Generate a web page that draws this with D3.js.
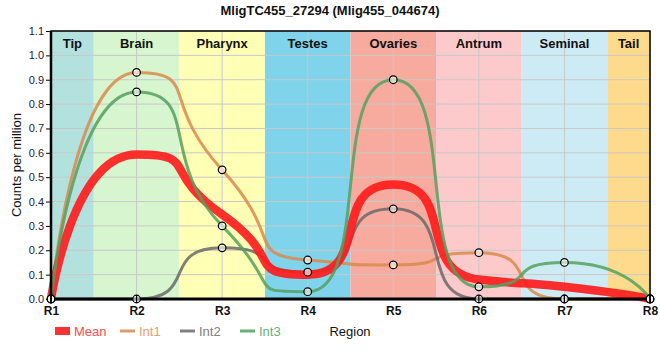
<!DOCTYPE html>
<html><head><meta charset="utf-8">
<script src="https://cdn.jsdelivr.net/npm/d3@7"></script>
<style>body{margin:0;background:#fff;font-family:"Liberation Sans",Arial,sans-serif}</style>
</head><body><svg id="c" width="660" height="360"></svg>
<script>
const regions = ["R1","R2","R3","R4","R5","R6","R7","R8"];
const tissues = ["Tip","Brain","Pharynx","Testes","Ovaries","Antrum","Seminal","Tail"];
const tissueColors = ["#b3e2de","#d7f6cf","#ffffb6","#7fd3eb","#f6ab9e","#fdcacb","#cdebf5","#fedb8c"];
const meanVals = [0, 0.593, 0.347, 0.10, 0.47, 0.08, 0.05, 0];
const int1 = [0, 0.93, 0.53, 0.16, 0.14, 0.19, 0, 0];
const int2 = [0, 0, 0.21, 0.11, 0.37, 0, 0, 0];
const int3 = [0, 0.85, 0.30, 0.03, 0.90, 0.05, 0.15, 0];
const yTicks = [0,0.1,0.2,0.3,0.4,0.5,0.6,0.7,0.8,0.9,1.0,1.1];

const svg = d3.select("#c");
const x = d3.scalePoint().domain(regions).range([51, 650]);
const y = d3.scaleLinear().domain([0, 1.1]).range([299, 31]);
const step = x.step();

// smoothed spline: flat tangents at local extremes, control points far out
function spline(vals) {
  const p = vals.map((v,i) => ({x: x(regions[i]), y: y(v)}));
  const c = 0.75;
  p.forEach((pt, i) => {
    if (i > 0 && i < p.length - 1) {
      const a = p[i-1], b = p[i+1];
      const lx = pt.x - c*(pt.x - a.x), rx = pt.x + c*(b.x - pt.x);
      let ly = pt.y + c*(a.y - pt.y), ry = pt.y + c*(b.y - pt.y);
      const corr = (ry - ly) * (rx - pt.x) / (rx - lx) + pt.y - ry;
      ly += corr; ry += corr;
      if (ly > a.y && ly > pt.y) { ly = Math.max(a.y, pt.y); ry = 2*pt.y - ly; }
      else if (ly < a.y && ly < pt.y) { ly = Math.min(a.y, pt.y); ry = 2*pt.y - ly; }
      if (ry > b.y && ry > pt.y) { ry = Math.max(b.y, pt.y); ly = 2*pt.y - ry; }
      else if (ry < b.y && ry < pt.y) { ry = Math.min(b.y, pt.y); ly = 2*pt.y - ry; }
      pt.lx = lx; pt.ly = ly; pt.rx = rx; pt.ry = ry;
    }
  });
  const path = d3.path();
  path.moveTo(p[0].x, p[0].y);
  for (let i = 1; i < p.length; i++) {
    const a = p[i-1], b = p[i];
    path.bezierCurveTo(a.rx ?? a.x, a.ry ?? a.y, b.lx ?? b.x, b.ly ?? b.y, b.x, b.y);
  }
  return path.toString();
}

// bands
const bx0 = i => Math.max(51, x(regions[i]) - step/2);
const bx1 = i => Math.min(650, x(regions[i]) + step/2);
svg.append("g").selectAll("rect").data(tissues).join("rect")
  .attr("x", (d,i) => bx0(i)).attr("width", (d,i) => bx1(i) - bx0(i))
  .attr("y", 31).attr("height", 268)
  .attr("fill", (d,i) => tissueColors[i]);

// grid
svg.append("g").selectAll("line").data(yTicks).join("line")
  .attr("x1", 51).attr("x2", 650).attr("y1", d => y(d)).attr("y2", d => y(d))
  .attr("stroke", "#c8c8c8").attr("stroke-width", 1);
svg.append("g").selectAll("line").data(regions).join("line")
  .attr("x1", d => x(d)).attr("x2", d => x(d)).attr("y1", 31).attr("y2", 299)
  .attr("stroke", "#c8c8c8").attr("stroke-width", 1);

// band labels
svg.append("g").selectAll("text").data(tissues).join("text")
  .attr("x", (d,i) => (bx0(i) + bx1(i))/2)
  .attr("y", 48).attr("text-anchor","middle")
  .attr("font-size", 13).attr("font-weight","bold").attr("fill","#111")
  .text(d => d);

const series = [
  {name:"Int1", vals:int1, color:"#d98a4c", text:"#e8a070", w:3},
  {name:"Int2", vals:int2, color:"#6a6a6a", text:"#808080", w:3},
  {name:"Mean", vals:meanVals, color:"#ff1a1a", text:"#ff4d4d", w:8.5},
  {name:"Int3", vals:int3, color:"#55a05e", text:"#6aae72", w:3}
];
svg.append("g").selectAll("path").data(series).join("path")
  .attr("d", d => spline(d.vals)).attr("fill","none")
  .attr("stroke", d => d.color).attr("stroke-width", d => d.w)
  .attr("stroke-opacity", d => d.name === "Mean" ? 0.9 : 0.85)
  .attr("stroke-linejoin","round");

// frame / axes
svg.append("rect").attr("x",51).attr("y",31).attr("width",599).attr("height",268)
  .attr("fill","none").attr("stroke","#000").attr("stroke-width",1.5);
svg.append("line").attr("x1",51).attr("x2",51).attr("y1",31).attr("y2",299).attr("stroke","#000").attr("stroke-width",2.5);
svg.append("line").attr("x1",50).attr("x2",651).attr("y1",299).attr("y2",299).attr("stroke","#000").attr("stroke-width",3);

const yAxis = svg.append("g").attr("transform","translate(50,0)")
  .call(d3.axisLeft(y).tickValues(yTicks).tickFormat(d3.format(".1f")).tickSize(4));
yAxis.select(".domain").remove();
yAxis.selectAll("text").attr("font-size", 11).attr("fill","#1a1a3a").attr("font-family","Liberation Sans, Arial, sans-serif").attr("dx", 1);
yAxis.selectAll("line").attr("stroke","#000");

const xAxis = svg.append("g").attr("transform","translate(0,299)")
  .call(d3.axisBottom(x).tickSize(0).tickPadding(7));
xAxis.select(".domain").remove();
xAxis.selectAll("text").attr("font-size", 12).attr("font-weight","bold").attr("fill","#111").attr("font-family","Liberation Sans, Arial, sans-serif");

// markers
const pts = [];
series.filter(s => s.name !== "Mean").forEach(s => s.vals.forEach((v,i) => pts.push({r:regions[i], v})));
const mk = svg.append("g");
mk.selectAll("circle").data(pts).join("circle")
  .attr("cx", d => x(d.r)).attr("cy", d => y(d.v)).attr("r", 3.8)
  .attr("fill","rgba(255,255,255,0.6)").attr("stroke","#000").attr("stroke-width",1.2);
mk.selectAll("line").data(pts.filter(d => d.v === 0)).join("line")
  .attr("x1", d => x(d.r)).attr("x2", d => x(d.r)).attr("y1", d => y(d.v)-4).attr("y2", d => y(d.v)+4)
  .attr("stroke","#000").attr("stroke-width",1.2);

// title
svg.append("text").attr("x", 330).attr("y", 15).attr("text-anchor","middle")
  .attr("font-size", 13).attr("font-weight","bold").attr("fill","#111")
  .text("MligTC455_27294 (Mlig455_044674)");

// y title
svg.append("text").attr("transform","translate(21,165) rotate(-90)").attr("text-anchor","middle")
  .attr("font-size", 13).attr("fill","#111").text("Counts per million");

// x title
svg.append("text").attr("x", 350).attr("y", 336).attr("text-anchor","middle")
  .attr("font-size", 13).attr("fill","#111").text("Region");

// legend
const legendOrder = ["Mean","Int1","Int2","Int3"];
const legendX = [55, 120, 180, 240];
const lg = svg.append("g").selectAll("g").data(legendOrder.map(n => series.find(s => s.name===n))).join("g")
  .attr("transform", (d,i) => `translate(${legendX[i]},331)`);
lg.append("rect").attr("x",0).attr("width",15)
  .attr("y", d => d.name==="Mean" ? -4 : -1.5).attr("height", d => d.name==="Mean" ? 8 : 3)
  .attr("fill", d => d.color).attr("fill-opacity", d => d.name==="Mean"?0.9:0.85);
lg.append("text").attr("x", 19).attr("y", 5).attr("font-size", 13).attr("fill", d => d.text).text(d => d.name);
</script></body></html>
